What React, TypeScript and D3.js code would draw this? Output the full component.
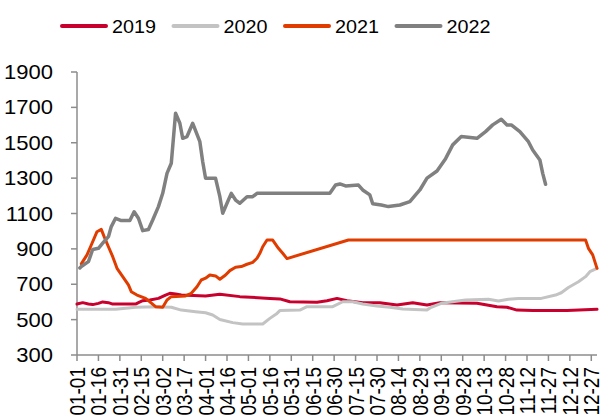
import * as d3 from "d3";

// categories: every day of a (non-leap) year, shown as MM-DD
const fmt = d3.timeFormat("%m-%d");
const categories: string[] = d3
  .timeDay.range(new Date(2021, 0, 1), new Date(2022, 0, 1))
  .map((d) => fmt(d));

const yTicks = [300, 500, 700, 900, 1100, 1300, 1500, 1700, 1900];

const years = ["2019", "2020", "2021", "2022"];
const colors = ["#C8002E", "#C3C3C3", "#E03C00", "#808080"];

const s2019: [string, number][] = [
  ["01-01", 588], ["01-05", 596], ["01-09", 588], ["01-12", 585], ["01-16", 592],
  ["01-19", 600], ["01-23", 596], ["01-26", 588], ["02-11", 588], ["02-13", 596],
  ["02-16", 607], ["02-21", 611], ["02-27", 620], ["03-04", 639], ["03-07", 649],
  ["03-11", 645], ["03-15", 639], ["04-01", 634], ["04-11", 643], ["04-25", 630],
  ["05-16", 620], ["05-23", 617], ["05-30", 601], ["06-18", 598], ["06-25", 607],
  ["07-02", 620], ["07-09", 607], ["07-20", 596], ["08-01", 596], ["08-13", 583],
  ["08-24", 596], ["09-03", 583], ["09-12", 596], ["10-08", 592], ["10-22", 573],
  ["10-29", 570], ["11-05", 554], ["11-16", 551], ["12-10", 551], ["12-31", 558],
];

const s2020: [string, number][] = [
  ["01-01", 558], ["01-28", 558], ["02-11", 570], ["02-25", 573], ["03-08", 570],
  ["03-15", 554], ["03-25", 545], ["04-01", 539], ["04-06", 526], ["04-11", 501],
  ["04-20", 483], ["04-27", 475], ["05-11", 475], ["05-16", 507], ["05-21", 535],
  ["05-23", 551], ["06-06", 554], ["06-11", 573], ["06-29", 573], ["07-06", 601],
  ["07-13", 601], ["07-20", 588], ["07-30", 577], ["08-08", 570], ["08-17", 560],
  ["09-03", 555], ["09-06", 570], ["09-13", 592], ["09-30", 611], ["10-16", 615],
  ["10-23", 605], ["10-30", 615], ["11-06", 620], ["11-22", 620], ["12-02", 639],
  ["12-06", 652], ["12-11", 682], ["12-18", 714], ["12-23", 743], ["12-26", 771],
  ["12-31", 790],
];

const s2021: [string, number][] = [
  ["01-04", 815], ["01-08", 866], ["01-11", 922], ["01-15", 997], ["01-18", 1010],
  ["01-20", 969], ["01-23", 912], ["01-26", 856], ["01-29", 790], ["02-02", 743],
  ["02-06", 696], ["02-08", 658], ["02-12", 639], ["02-18", 620], ["02-21", 601],
  ["02-25", 573], ["03-02", 570], ["03-05", 611], ["03-08", 630], ["03-18", 634],
  ["03-22", 649], ["03-26", 686], ["03-29", 724], ["04-01", 734], ["04-04", 752],
  ["04-08", 747], ["04-11", 728], ["04-15", 752], ["04-18", 777], ["04-22", 796],
  ["04-26", 800], ["04-30", 813], ["05-04", 824], ["05-07", 847], ["05-09", 875],
  ["05-11", 912], ["05-14", 950], ["05-18", 950], ["05-22", 903], ["05-25", 875],
  ["05-28", 845], ["07-10", 950], ["12-23", 950], ["12-25", 903], ["12-28", 866],
  ["12-31", 790],
];

const s2022: [string, number][] = [
  ["01-03", 792], ["01-04", 800], ["01-09", 828], ["01-12", 897], ["01-16", 903],
  ["01-19", 932], ["01-23", 969], ["01-25", 1026], ["01-28", 1073], ["02-01", 1060],
  ["02-07", 1060], ["02-10", 1110], ["02-13", 1073], ["02-16", 1003], ["02-20", 1010],
  ["02-23", 1063], ["02-27", 1139], ["03-02", 1214], ["03-05", 1327], ["03-08", 1384],
  ["03-11", 1667], ["03-14", 1610], ["03-16", 1525], ["03-19", 1535], ["03-23", 1610],
  ["03-28", 1506], ["03-30", 1393], ["04-01", 1299], ["04-08", 1299], ["04-11", 1195],
  ["04-13", 1101], ["04-16", 1158], ["04-19", 1214], ["04-22", 1176], ["04-25", 1158],
  ["04-30", 1195], ["05-04", 1195], ["05-07", 1214], ["06-27", 1214], ["07-01", 1261],
  ["07-04", 1267], ["07-08", 1256], ["07-17", 1261], ["07-20", 1233], ["07-25", 1205],
  ["07-27", 1155], ["08-02", 1148], ["08-07", 1139], ["08-15", 1148], ["08-22", 1167],
  ["08-26", 1205], ["08-29", 1233], ["09-03", 1300], ["09-10", 1340], ["09-16", 1410],
  ["09-21", 1488], ["09-27", 1535], ["10-08", 1525], ["10-14", 1563], ["10-19", 1601],
  ["10-25", 1633], ["10-29", 1601], ["11-01", 1601], ["11-07", 1563], ["11-13", 1506],
  ["11-16", 1459], ["11-21", 1403], ["11-23", 1327], ["11-25", 1265],
];

const series = [s2019, s2020, s2021, s2022];

const W = 606;
const H = 419;
const left = 77;
const right = 597;
const top = 72;
const bottom = 355;
const font = "Arial, 'Liberation Sans', sans-serif";
const axisColor = "#8c8c8c";

export default function App() {
  const x = d3.scalePoint<string>().domain(categories).range([left, right]);
  const y = d3.scaleLinear().domain([300, 1900]).range([bottom, top]);
  const line = d3
    .line<[string, number]>()
    .x((d) => x(d[0]) as number)
    .y((d) => y(d[1]));

  const xTicks = categories.filter((_, i) => i % 15 === 0);

  return (
    <svg
      width={W}
      height={H}
      style={{ position: "absolute", left: 0, top: 0, background: "#fff" }}
      fontFamily={font}
    >
      {/* legend */}
      {years.map((yr, i) => {
        const lx = 62 + i * 111.5;
        return (
          <g key={yr}>
            <line x1={lx} x2={lx + 44} y1={26} y2={26} stroke={colors[i]} strokeWidth={4} strokeLinecap="round" />
            <text transform={`translate(${lx + 50},33) scale(1.04,1)`} fontSize={19} fill="#000">{yr}</text>
          </g>
        );
      })}

      {/* y axis */}
      <line x1={left} x2={left} y1={top} y2={bottom} stroke={axisColor} strokeWidth={1.5} />
      {yTicks.map((t) => (
        <g key={t}>
          <line x1={left - 6} x2={left} y1={y(t)} y2={y(t)} stroke={axisColor} strokeWidth={1.5} />
          <text
            transform={`translate(53,${y(t) + 7}) scale(1.1,1)`}
            fontSize={20}
            textAnchor="end"
            fill="#000"
          >
            {t}
          </text>
        </g>
      ))}

      {/* x axis */}
      <line x1={left} x2={right} y1={bottom} y2={bottom} stroke={axisColor} strokeWidth={1.5} />
      {xTicks.map((c) => (
        <g key={c}>
          <line x1={x(c)} x2={x(c)} y1={bottom} y2={bottom + 6} stroke={axisColor} strokeWidth={1.5} />
          <text
            transform={`translate(${(x(c) as number) + 8},367) rotate(-90) scale(1,1.18)`}
            fontSize={19}
            textAnchor="end"
            fill="#000"
          >
            {c}
          </text>
        </g>
      ))}

      {/* series */}
      {series.map((s, i) => (
        <path
          key={years[i]}
          d={line(s) || ""}
          fill="none"
          stroke={colors[i]}
          strokeWidth={i === 3 ? 3.5 : 3}
          strokeLinejoin="round"
          strokeLinecap="round"
        />
      ))}
    </svg>
  );
}
